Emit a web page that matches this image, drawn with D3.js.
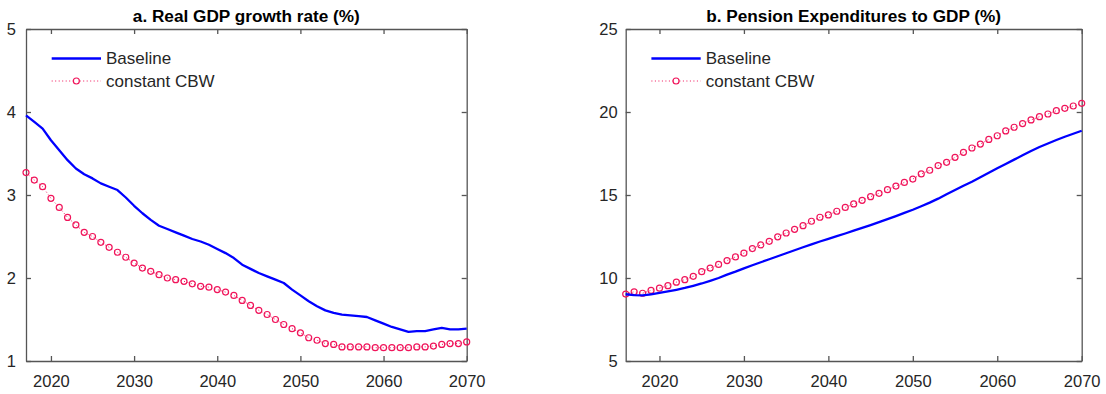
<!DOCTYPE html>
<html>
<head>
<meta charset="utf-8">
<script src="https://cdn.jsdelivr.net/npm/d3@7"></script>
<style>
  html, body { margin: 0; padding: 0; background: #fff; }
  svg { display: block; }
  text { font-family: "Liberation Sans", Arial, Helvetica, sans-serif; }
</style>
</head>
<body>
<svg id="chart" width="1106" height="394"></svg>
<script>
// ---------- data ----------
const yearsA = [2017,2018,2019,2020,2021,2022,2023,2024,2025,2026,
  2027,2028,2029,2030,2031,2032,2033,2034,2035,2036,
  2037,2038,2039,2040,2041,2042,2043,2044,2045,2046,
  2047,2048,2049,2050,2051,2052,2053,2054,2055,2056,
  2057,2058,2059,2060,2061,2062,2063,2064,2065,2066,
  2067,2068,2069,2070];
const gdpBaseline = [3.96,3.88,3.80,3.66,3.54,3.42,3.32,3.25,3.20,3.14,
  3.10,3.06,2.97,2.87,2.78,2.70,2.63,2.59,2.55,2.51,
  2.47,2.44,2.40,2.35,2.30,2.24,2.16,2.11,2.06,2.02,
  1.98,1.94,1.86,1.79,1.72,1.66,1.61,1.58,1.56,1.55,
  1.54,1.53,1.49,1.45,1.41,1.38,1.35,1.36,1.36,1.38,
  1.40,1.38,1.38,1.39];
const gdpCBW = [3.27,3.18,3.10,2.96,2.85,2.73,2.64,2.55,2.50,2.43,
  2.37,2.31,2.25,2.18,2.12,2.08,2.04,2.00,1.98,1.96,
  1.93,1.90,1.89,1.86,1.83,1.79,1.73,1.67,1.61,1.56,
  1.50,1.44,1.39,1.34,1.28,1.25,1.21,1.20,1.17,1.17,
  1.17,1.17,1.16,1.16,1.16,1.16,1.16,1.17,1.17,1.18,
  1.20,1.21,1.21,1.23];

const yearsB = [2016,2017,2018,2019,2020,2021,2022,2023,2024,2025,
  2026,2027,2028,2029,2030,2031,2032,2033,2034,2035,
  2036,2037,2038,2039,2040,2041,2042,2043,2044,2045,
  2046,2047,2048,2049,2050,2051,2052,2053,2054,2055,
  2056,2057,2058,2059,2060,2061,2062,2063,2064,2065,
  2066,2067,2068,2069,2070];
const pensionBaseline = [9.02,8.97,8.95,9.02,9.10,9.19,9.29,9.40,9.53,9.67,
  9.83,10.00,10.20,10.38,10.58,10.77,10.95,11.13,11.31,11.49,
  11.67,11.85,12.03,12.20,12.36,12.52,12.68,12.85,13.02,13.19,
  13.37,13.55,13.73,13.92,14.11,14.32,14.54,14.78,15.04,15.30,
  15.56,15.80,16.07,16.34,16.61,16.87,17.13,17.39,17.65,17.89,
  18.10,18.31,18.51,18.69,18.87];
const pensionCBW = [9.03,9.17,9.08,9.25,9.39,9.54,9.75,9.90,10.10,10.38,
  10.60,10.82,11.05,11.27,11.50,11.77,11.99,12.21,12.48,12.71,
  12.93,13.15,13.42,13.66,13.80,14.02,14.25,14.46,14.68,14.90,
  15.10,15.32,15.54,15.76,15.96,16.27,16.49,16.77,16.97,17.27,
  17.57,17.83,18.07,18.35,18.57,18.86,19.08,19.30,19.52,19.72,
  19.88,20.08,20.22,20.36,20.52];

const xTicks = [2020,2030,2040,2050,2060,2070];
const yTicksA = [1,2,3,4,5];
const yTicksB = [5,10,15,20,25];
const seriesNames = ["Baseline","constant CBW"];
const titles = ["a. Real GDP growth rate (%)","b. Pension Expenditures to GDP (%)"];

// ---------- styles ----------
const BLUE = "#0000ff";
const RED = "#f0145a";
const AXIS = "#555555";
const TXT = "#262626";
const FS = 16.5;

const svg = d3.select("#chart");

const panels = [
  { left: 26, right: 466.7, top: 29, bottom: 361, xdom: [2017, 2070], ydom: [1, 5],
    years: yearsA, base: gdpBaseline, cbw: gdpCBW, yTicks: yTicksA, title: titles[0], yPad: 10 },
  { left: 625.7, right: 1081.7, top: 29, bottom: 361, xdom: [2016, 2070], ydom: [5, 25],
    years: yearsB, base: pensionBaseline, cbw: pensionCBW, yTicks: yTicksB, title: titles[1], yPad: 8 }
];

panels.forEach(p => {
  const x = d3.scaleLinear().domain(p.xdom).range([p.left, p.right]);
  const y = d3.scaleLinear().domain(p.ydom).range([p.bottom, p.top]);
  const g = svg.append("g");

  // axes
  const styleAxis = sel => {
    sel.select(".domain").attr("stroke", AXIS).attr("stroke-width", 1.3);
    sel.selectAll(".tick line").attr("stroke", AXIS).attr("stroke-width", 1.3);
    sel.selectAll("text").attr("fill", TXT).style("font-size", FS + "px")
      .style("font-family", "'Liberation Sans', Arial, sans-serif");
  };
  g.append("g").attr("transform", `translate(0,${p.bottom})`)
    .call(d3.axisBottom(x).tickValues(xTicks).tickFormat(d3.format("d"))
      .tickSizeInner(-5).tickSizeOuter(0).tickPadding(14))
    .call(styleAxis);
  g.append("g").attr("transform", `translate(0,${p.top})`)
    .call(d3.axisTop(x).tickValues(xTicks).tickFormat("")
      .tickSizeInner(-5).tickSizeOuter(0))
    .call(styleAxis);
  g.append("g").attr("transform", `translate(${p.left},0)`)
    .call(d3.axisLeft(y).tickValues(p.yTicks).tickFormat(d3.format("d"))
      .tickSizeInner(-5).tickSizeOuter(0).tickPadding(p.yPad))
    .call(styleAxis);
  g.append("g").attr("transform", `translate(${p.right},0)`)
    .call(d3.axisRight(y).tickValues(p.yTicks).tickFormat("")
      .tickSizeInner(-5).tickSizeOuter(0))
    .call(styleAxis);

  // title
  g.append("text").attr("x", (p.left + p.right) / 2).attr("y", 21.5)
    .attr("text-anchor", "middle").attr("font-weight", "bold")
    .attr("fill", "#000").style("font-size", "17.2px").text(p.title);

  const line = d3.line().x((d, i) => x(p.years[i])).y(d => y(d));

  // CBW dotted line + markers
  g.append("path").datum(p.cbw).attr("d", line)
    .attr("fill", "none").attr("stroke", RED).attr("stroke-width", 1)
    .attr("stroke-dasharray", "1,2.5");
  g.append("g").selectAll("circle").data(p.cbw).join("circle")
    .attr("cx", (d, i) => x(p.years[i])).attr("cy", d => y(d)).attr("r", 3)
    .attr("fill", "none").attr("stroke", RED).attr("stroke-width", 1.2);

  // Baseline solid line
  g.append("path").datum(p.base).attr("d", line)
    .attr("fill", "none").attr("stroke", BLUE).attr("stroke-width", 2.3)
    .attr("stroke-linejoin", "round");

  // legend
  const lx0 = p.left + 25.7, lx1 = p.left + 75, tx = p.left + 80;
  const ly1 = 58.5, ly2 = 81;
  g.append("line").attr("x1", lx0).attr("x2", lx1).attr("y1", ly1).attr("y2", ly1)
    .attr("stroke", BLUE).attr("stroke-width", 2.3);
  g.append("text").attr("x", tx).attr("y", ly1).attr("dy", "0.35em")
    .attr("fill", TXT).style("font-size", "17px").text(seriesNames[0]);
  g.append("line").attr("x1", lx0).attr("x2", lx1).attr("y1", ly2).attr("y2", ly2)
    .attr("stroke", RED).attr("stroke-width", 1).attr("stroke-dasharray", "1,2.5");
  g.append("circle").attr("cx", (lx0 + lx1) / 2).attr("cy", ly2).attr("r", 3)
    .attr("fill", "#fff").attr("stroke", RED).attr("stroke-width", 1.2);
  g.append("text").attr("x", tx).attr("y", ly2).attr("dy", "0.35em")
    .attr("fill", TXT).style("font-size", "17px").text(seriesNames[1]);
});
</script>
</body>
</html>
